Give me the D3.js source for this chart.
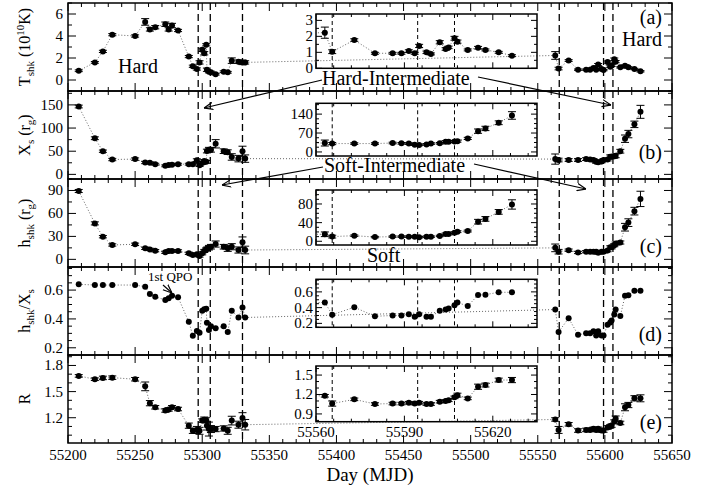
<!DOCTYPE html>
<html lang="en">
<head>
<meta charset="utf-8">
<title>Shock parameters</title>
<script src="https://d3js.org/d3.v7.min.js"></script>
<style>
  body { margin: 0; background: white; }
  svg { display: block; }
</style>
</head>
<body>
<div class="chart"></div>
<script>
// ---- data ----
// first outburst (left part of the main panels)
const daysOne = [55208, 55220, 55226, 55233, 55250, 55257.5, 55261, 55265, 55272.5, 55275, 55277.5, 55282, 55290, 55293,
  55296, 55298, 55300, 55301.5, 55303, 55303.5, 55305, 55306.5, 55310, 55316, 55319, 55322, 55327, 55330, 55332];
// second outburst (right part of main panels, and the insets)
const daysTwo = [55563, 55565.5, 55573, 55580, 55586, 55589, 55591.5, 55593.5, 55595, 55597.5, 55599, 55602, 55604, 55605,
  55607, 55608, 55611.5, 55615, 55617.5, 55622, 55626.5];

const tshkOne = [0.84, 1.6, 2.6, 4.12, 4.0, 5.28, 4.6, 4.8, 5.07, 4.6, 4.95, 4.5, 2.13, 1.25, 1.0, 1.6, 2.74, 2.43, 3.2, 0.93,
  0.75, 0.7, 0.53, 0.75, 0.7, 1.76, 1.67, 1.6, 1.6];
const tshkOneErr = [0.08, 0.08, 0.1, 0.1, 0.1, 0.3, 0.15, 0.15, 0.2, 0.15, 0.2, 0.1, 0.1, 0.1, 0.1, 0.15, 0.15, 0.15, 0.1, 0.15,
  0.1, 0.1, 0.08, 0.08, 0.08, 0.25, 0.15, 0.2, 0.15];
const tshkTwo = [2.23, 1.04, 1.77, 0.94, 0.94, 0.94, 1.08, 0.94, 1.4, 1.0, 0.9, 1.63, 1.21, 1.31, 1.88, 1.67, 1.15, 1.29, 1.15, 1.0, 0.79];
const tshkTwoErr = [0.35, 0.12, 0.08, 0.06, 0.06, 0.06, 0.08, 0.06, 0.1, 0.08, 0.06, 0.1, 0.08, 0.08, 0.12, 0.1, 0.06, 0.08, 0.06, 0.06, 0.06];

const xsOne = [146.5, 78, 50, 32, 33, 25.6, 25, 22, 18.4, 20, 21, 22, 22, 22, 30.6, 19.9, 24.6, 29, 27, 50.4, 53.3, 53, 66, 50,
  48, 37.6, 34, 49.8, 34];
const xsOneErr = [3, 3, 2.5, 2.5, 2.5, 2.5, 2, 2, 2, 2, 2, 2, 2, 2, 3, 3, 3, 3, 3, 4, 5, 5, 9, 5, 5, 7, 7, 11, 8];
const xsTwo = [33, 31, 31, 31, 33, 32, 31, 27, 26, 28, 31, 32, 38, 38, 39, 40, 50, 77, 87, 108, 135];
const xsTwoErr = [11, 4, 3, 3, 3, 3, 3, 3, 3, 3, 3, 3, 4, 4, 4, 4, 4, 8, 8, 7, 14];

const hshkOne = [89.3, 47, 29.6, 18.8, 19.7, 14.4, 13, 11.3, 9.2, 11, 11, 11, 7.9, 5.7, 6.5, 4.4, 7.9, 11, 13, 14, 15.2, 16.5,
  20, 16.5, 14.4, 16.5, 12.2, 22.3, 12.2];
const hshkOneErr = [2, 2, 1.5, 1.5, 1.5, 1.5, 1.5, 1.5, 1.5, 1.5, 1.5, 1.5, 1.5, 1.5, 1.5, 1.5, 2, 2, 2, 2, 3, 3, 4, 3, 4, 4, 4, 7, 5];
const hshkTwo = [15, 10, 12, 9, 10, 10, 9.9, 9.9, 8.6, 9.9, 9.9, 11.4, 15.7, 15.7, 18.5, 20.6, 22, 42, 48, 63, 79];
const hshkTwoErr = [5, 3, 1.5, 1.5, 1.5, 1.5, 1.5, 1.5, 1.5, 1.5, 1.5, 1.5, 2, 2, 2, 2, 2, 5, 5, 5, 10];

const ratioOne = [0.64, 0.635, 0.635, 0.635, 0.635, 0.623, 0.573, 0.554, 0.531, 0.543, 0.561, 0.55, 0.38, 0.284, 0.316, 0.305,
  0.457, 0.467, 0.47, 0.374, 0.323, 0.35, 0.335, 0.35, 0.31, 0.457, 0.41, 0.48, 0.41];
const ratioTwo = [0.465, 0.31, 0.405, 0.29, 0.30, 0.30, 0.315, 0.285, 0.315, 0.285, 0.285, 0.36, 0.375, 0.39, 0.43, 0.465, 0.42,
  0.56, 0.565, 0.595, 0.595];

const rOne = [1.68, 1.642, 1.657, 1.66, 1.642, 1.56, 1.367, 1.32, 1.283, 1.295, 1.32, 1.30, 1.109, 1.05, 1.06, 1.05, 1.167, 1.178,
  1.17, 1.109, 1.07, 1.07, 1.07, 1.077, 1.05, 1.167, 1.12, 1.198, 1.12];
const rOneErr = [0.015, 0.015, 0.02, 0.02, 0.02, 0.05, 0.03, 0.02, 0.02, 0.02, 0.02, 0.02, 0.03, 0.03, 0.04, 0.04, 0.02, 0.03,
  0.03, 0.05, 0.08, 0.04, 0.03, 0.03, 0.04, 0.05, 0.04, 0.06, 0.06];
const rTwo = [1.18, 1.06, 1.125, 1.053, 1.06, 1.06, 1.073, 1.06, 1.073, 1.053, 1.053, 1.089, 1.10, 1.11, 1.156, 1.19, 1.14,
  1.32, 1.346, 1.423, 1.423];
const rTwoErr = [0.02, 0.04, 0.02, 0.02, 0.02, 0.02, 0.02, 0.02, 0.02, 0.02, 0.02, 0.02, 0.02, 0.02, 0.02, 0.03, 0.02, 0.04,
  0.03, 0.03, 0.04];

const transitionDays = [55297, 55306, 55330, 55566, 55599, 55606];
const insetTransitionDays = [55565.5, 55594.5, 55607];
const xTickLabels = [55200, 55250, 55300, 55350, 55400, 55450, 55500, 55550, 55600, 55650];
const insetXTickLabels = [55560, 55590, 55620];

// ---- layout ----
const width = 714, height = 485;
const plotLeft = 68, plotRight = 672, plotTop = 3, panelH = 88;
const insetLeft = 316, insetRight = 537;
const serif = "Liberation Serif, Times New Roman, Times, Tinos, DejaVu Serif, Noto Serif, serif";

const x = d3.scaleLinear().domain([55200, 55650]).range([plotLeft, plotRight]);
const xi = d3.scaleLinear().domain([55560, 55635]).range([insetLeft, insetRight]);

const panels = [
  { tag: "(a)", tagY: 24, one: tshkOne, oneErr: tshkOneErr, two: tshkTwo, twoErr: tshkTwoErr,
    domain: [-1, 7], major: 2, minor: 1, fmt: d3.format("d"),
    inset: { domain: [0, 3.4], top: 11, bottom: 65.3, major: 1, minor: 0.5, fmt: d3.format("d") } },
  { tag: "(b)", tagY: 159, one: xsOne, oneErr: xsOneErr, two: xsTwo, twoErr: xsTwoErr,
    domain: [-10, 180], major: 50, minor: 25, fmt: d3.format("d"),
    inset: { domain: [-15, 180], top: 12.3, bottom: 65, major: 70, minor: 17.5, fmt: d3.format("d") } },
  { tag: "(c)", tagY: 253, one: hshkOne, oneErr: hshkOneErr, two: hshkTwo, twoErr: hshkTwoErr,
    domain: [-10, 105], major: 30, minor: 15, fmt: d3.format("d"),
    inset: { domain: [-8, 110], top: 11, bottom: 66, major: 40, minor: 10, fmt: d3.format("d") } },
  { tag: "(d)", tagY: 341, one: ratioOne, oneErr: null, two: ratioTwo, twoErr: null,
    domain: [0.15, 0.76], major: 0.2, minor: 0.05, fmt: d3.format(".1f"),
    inset: { domain: [0.15, 0.76], top: 12.3, bottom: 60.3, major: 0.2, minor: 0.05, fmt: d3.format(".1f") } },
  { tag: "(e)", tagY: 429, one: rOne, oneErr: rOneErr, two: rTwo, twoErr: rTwoErr,
    domain: [0.91, 1.92], major: 0.3, minor: 0.1, fmt: d3.format(".1f"),
    inset: { domain: [0.78, 1.64], top: 11, bottom: 66.7, major: 0.3, minor: 0.1, fmt: d3.format(".1f") } }
];

function steps(domain, step) {
  const out = [];
  const k0 = Math.ceil(domain[0] / step - 1e-9), k1 = Math.floor(domain[1] / step + 1e-9);
  for (let k = k0; k <= k1; k++) out.push(+(k * step).toFixed(6));
  return out;
}
function minorSteps(domain, step, major) {
  return steps(domain, step).filter(v => Math.abs(v / major - Math.round(v / major)) > 1e-6);
}

const svg = d3.select(".chart").append("svg")
  .attr("width", width).attr("height", height)
  .style("font-family", serif);

const defs = svg.append("defs");
defs.append("marker").attr("id", "arrow")
  .attr("viewBox", "0 0 10 10").attr("refX", 10).attr("refY", 5)
  .attr("markerWidth", 9).attr("markerHeight", 9).attr("markerUnits", "userSpaceOnUse")
  .attr("orient", "auto")
  .append("path").attr("d", "M0,1 L10,5 L0,9")
  .attr("fill", "none").attr("stroke", "black").attr("stroke-width", 1.3);

function drawSeries(g, xs, y, days, vals, errs, capW) {
  const pts = days.map((d, i) => ({ d, v: vals[i], e: errs ? errs[i] : 0 }));
  g.append("path").datum(pts)
    .attr("d", d3.line().x(p => xs(p.d)).y(p => y(p.v)))
    .attr("fill", "none").attr("stroke", "#666").attr("stroke-width", 1)
    .attr("stroke-dasharray", "1,2");
  if (errs) {
    const eb = g.append("g").attr("stroke", "black").attr("stroke-width", 1);
    pts.forEach(p => {
      const cx = xs(p.d), y0 = y(p.v - p.e), y1 = y(p.v + p.e);
      eb.append("line").attr("x1", cx).attr("x2", cx).attr("y1", y0).attr("y2", y1);
      eb.append("line").attr("x1", cx - capW).attr("x2", cx + capW).attr("y1", y0).attr("y2", y0);
      eb.append("line").attr("x1", cx - capW).attr("x2", cx + capW).attr("y1", y1).attr("y2", y1);
    });
  }
  g.selectAll("circle.pt").data(pts).enter().append("circle")
    .attr("class", "pt")
    .attr("cx", p => xs(p.d)).attr("cy", p => y(p.v)).attr("r", 3).attr("fill", "black");
}

panels.forEach((p, i) => {
  const y0 = plotTop + i * panelH, y1 = y0 + panelH;
  const y = d3.scaleLinear().domain(p.domain).range([y1, y0]);
  const g = svg.append("g");

  const clipId = "clip" + i;
  defs.append("clipPath").attr("id", clipId)
    .append("rect").attr("x", plotLeft).attr("y", y0).attr("width", plotRight - plotLeft).attr("height", panelH);

  // main series: both outbursts joined by one dotted line
  const mg = g.append("g").attr("clip-path", `url(#${clipId})`);
  const allDays = daysOne.concat(daysTwo);
  const allVals = p.one.concat(p.two);
  const allErr = p.oneErr ? p.oneErr.concat(p.twoErr) : null;
  drawSeries(mg, x, y, allDays, allVals, allErr, 4);

  // inset
  const it = y0 + p.inset.top, ib = y0 + p.inset.bottom;
  const yi = d3.scaleLinear().domain(p.inset.domain).range([ib, it]);
  const iclip = "iclip" + i;
  defs.append("clipPath").attr("id", iclip)
    .append("rect").attr("x", insetLeft).attr("y", it).attr("width", insetRight - insetLeft).attr("height", ib - it);
  const ig = g.append("g");
  const igc = ig.append("g").attr("clip-path", `url(#${iclip})`);
  insetTransitionDays.forEach(d => {
    igc.append("line").attr("x1", xi(d)).attr("x2", xi(d)).attr("y1", it).attr("y2", ib)
      .attr("stroke", "black").attr("stroke-width", 1).attr("stroke-dasharray", "4,3");
  });
  drawSeries(igc, xi, yi, allDays, allVals, allErr, 4);

  const itk = ig.append("g").attr("stroke", "black").attr("stroke-width", 1);
  steps(xi.domain(), 30).forEach(d => {
    itk.append("line").attr("x1", xi(d)).attr("x2", xi(d)).attr("y1", ib).attr("y2", ib - 6);
    itk.append("line").attr("x1", xi(d)).attr("x2", xi(d)).attr("y1", it).attr("y2", it + 6);
  });
  minorSteps(xi.domain(), 6, 30).forEach(d => {
    itk.append("line").attr("x1", xi(d)).attr("x2", xi(d)).attr("y1", ib).attr("y2", ib - 3);
    itk.append("line").attr("x1", xi(d)).attr("x2", xi(d)).attr("y1", it).attr("y2", it + 3);
  });
  steps(p.inset.domain, p.inset.major).forEach(v => {
    itk.append("line").attr("x1", insetLeft).attr("x2", insetLeft + 6).attr("y1", yi(v)).attr("y2", yi(v));
    itk.append("line").attr("x1", insetRight).attr("x2", insetRight - 6).attr("y1", yi(v)).attr("y2", yi(v));
    ig.append("text").attr("x", insetLeft - 3).attr("y", yi(v)).attr("dy", "0.33em")
      .attr("text-anchor", "end").attr("font-size", 15).text(p.inset.fmt(v));
  });
  minorSteps(p.inset.domain, p.inset.minor, p.inset.major).forEach(v => {
    itk.append("line").attr("x1", insetLeft).attr("x2", insetLeft + 3).attr("y1", yi(v)).attr("y2", yi(v));
    itk.append("line").attr("x1", insetRight).attr("x2", insetRight - 3).attr("y1", yi(v)).attr("y2", yi(v));
  });
  ig.append("rect").attr("x", insetLeft).attr("y", it).attr("width", insetRight - insetLeft).attr("height", ib - it)
    .attr("fill", "none").attr("stroke", "black").attr("stroke-width", 1.5);
  if (i === panels.length - 1) {
    insetXTickLabels.forEach(d => {
      ig.append("text").attr("x", xi(d)).attr("y", ib + 15).attr("text-anchor", "middle")
        .attr("font-size", 15).text(d);
    });
  }

  // frame and ticks of the main panel
  const tk = g.append("g").attr("stroke", "black").attr("stroke-width", 1);
  steps(x.domain(), 50).forEach(d => {
    tk.append("line").attr("x1", x(d)).attr("x2", x(d)).attr("y1", y1).attr("y2", y1 - 8);
    tk.append("line").attr("x1", x(d)).attr("x2", x(d)).attr("y1", y0).attr("y2", y0 + 8);
  });
  minorSteps(x.domain(), 10, 50).forEach(d => {
    tk.append("line").attr("x1", x(d)).attr("x2", x(d)).attr("y1", y1).attr("y2", y1 - 4);
    tk.append("line").attr("x1", x(d)).attr("x2", x(d)).attr("y1", y0).attr("y2", y0 + 4);
  });
  steps(p.domain, p.major).forEach(v => {
    tk.append("line").attr("x1", plotLeft).attr("x2", plotLeft + 8).attr("y1", y(v)).attr("y2", y(v));
    tk.append("line").attr("x1", plotRight).attr("x2", plotRight - 8).attr("y1", y(v)).attr("y2", y(v));
    g.append("text").attr("x", plotLeft - 5).attr("y", y(v)).attr("dy", "0.33em")
      .attr("text-anchor", "end").attr("font-size", 15).text(p.fmt(v));
  });
  minorSteps(p.domain, p.minor, p.major).forEach(v => {
    tk.append("line").attr("x1", plotLeft).attr("x2", plotLeft + 4).attr("y1", y(v)).attr("y2", y(v));
    tk.append("line").attr("x1", plotRight).attr("x2", plotRight - 4).attr("y1", y(v)).attr("y2", y(v));
  });
  g.append("rect").attr("x", plotLeft).attr("y", y0).attr("width", plotRight - plotLeft).attr("height", panelH)
    .attr("fill", "none").attr("stroke", "black").attr("stroke-width", 1.5);

  g.append("text").attr("x", 662).attr("y", p.tagY).attr("text-anchor", "end")
    .attr("font-size", 20).text(p.tag);
});

// transition markers across all panels
transitionDays.forEach(d => {
  svg.append("line").attr("x1", x(d)).attr("x2", x(d))
    .attr("y1", plotTop).attr("y2", plotTop + panels.length * panelH)
    .attr("stroke", "black").attr("stroke-width", 1.3).attr("stroke-dasharray", "7,4");
});

// bottom axis labels
xTickLabels.forEach(d => {
  svg.append("text").attr("x", x(d)).attr("y", 460).attr("text-anchor", "middle")
    .attr("font-size", 15).text(d);
});
svg.append("text").attr("x", 370).attr("y", 481).attr("text-anchor", "middle")
  .attr("font-size", 19).text("Day (MJD)");

// y axis titles
const yTitles = [
  [["T", 0], ["shk", -1], [" (10", 0], ["10", 1], ["K)", 0]],
  [["X", 0], ["s", -1], [" (r", 0], ["g", -1], [")", 0]],
  [["h", 0], ["shk", -1], [" (r", 0], ["g", -1], [")", 0]],
  [["h", 0], ["shk", -1], ["/X", 0], ["s", -1]],
  [["R", 0]]
];
yTitles.forEach((parts, i) => {
  const cy = plotTop + i * panelH + panelH / 2;
  const t = svg.append("text").attr("font-size", 16).attr("text-anchor", "middle")
    .attr("transform", `translate(30,${cy}) rotate(-90)`);
  let prev = 0;
  parts.forEach(([s, shift]) => {
    const ts = t.append("tspan").text(s);
    const dy = shift === -1 ? 4 : shift === 1 ? -6 : 0;
    ts.attr("dy", dy - prev);
    if (shift !== 0) ts.attr("font-size", 11);
    prev = dy;
  });
});

// annotations
const notes = [
  ["Hard", 118, 73], ["Hard", 622, 46], ["Hard-Intermediate", 322, 85],
  ["Soft-Intermediate", 324, 172], ["Soft", 367, 262]
];
notes.forEach(([s, nx, ny]) => {
  svg.append("text").attr("x", nx).attr("y", ny).attr("font-size", 20).text(s);
});
svg.append("text").attr("x", 148).attr("y", 281).attr("font-size", 13).text("1st QPO");

const arrows = [
  [322, 80, 204, 108], [478, 77, 611, 105],
  [323, 167, 222, 185], [474, 164, 586, 189],
  [163, 285, 172, 293]
];
arrows.forEach(([ax, ay, bx, by]) => {
  svg.append("line").attr("x1", ax).attr("y1", ay).attr("x2", bx).attr("y2", by)
    .attr("stroke", "black").attr("stroke-width", 1.2).attr("marker-end", "url(#arrow)");
});
</script>
</body>
</html>
